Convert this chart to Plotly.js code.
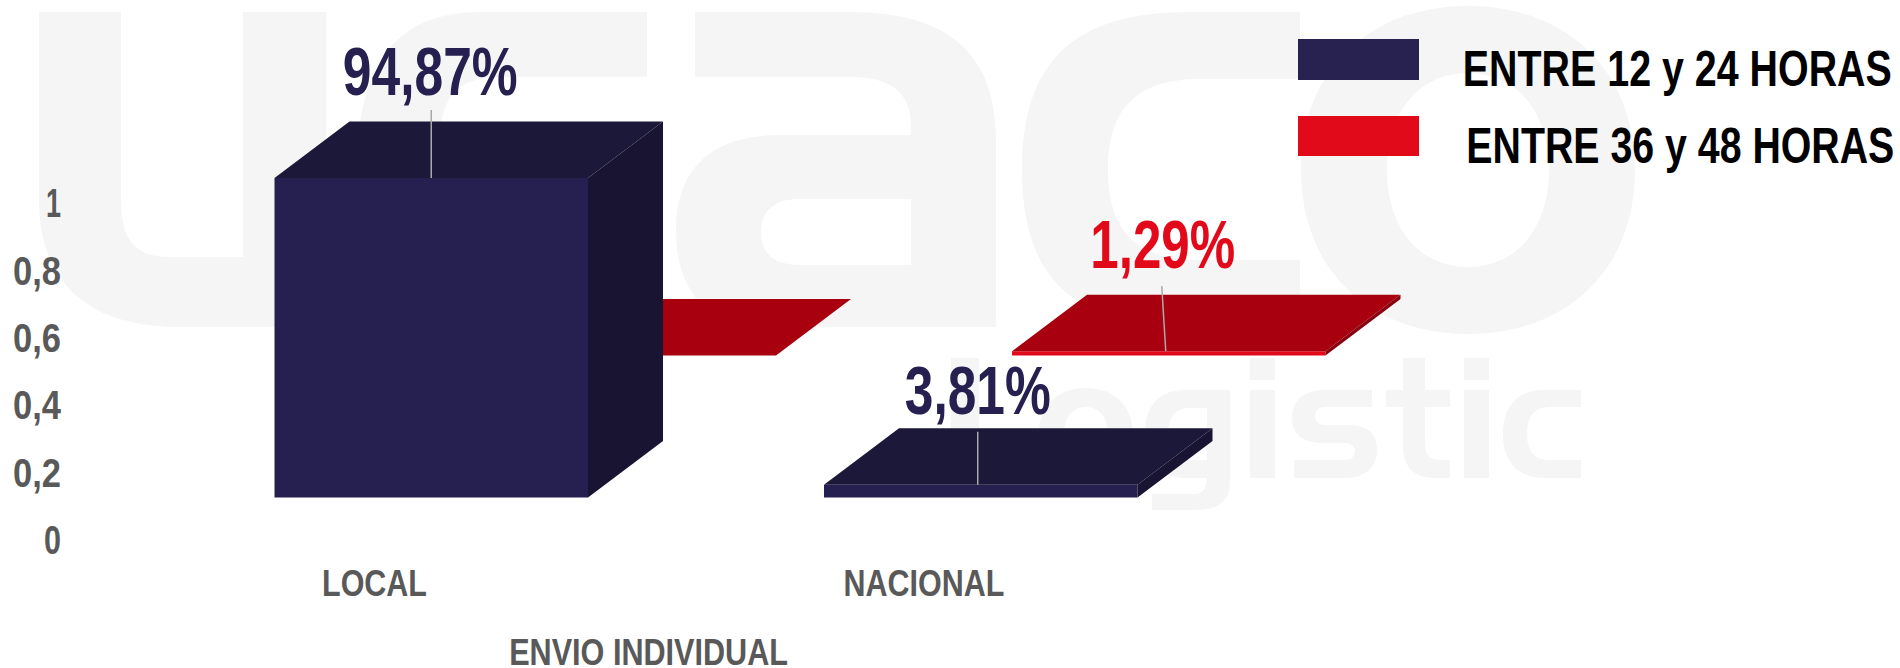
<!DOCTYPE html>
<html>
<head>
<meta charset="utf-8">
<script src="https://cdn.plot.ly/plotly-3.0.1.min.js"></script>
<style>html,body{margin:0;padding:0;background:#fff}#c{width:1900px;height:668px}</style>
</head>
<body>
<div id="c"></div>
<script>
// ---- data ----
const categories = ['LOCAL', 'NACIONAL'];
const axisTitle = 'ENVIO INDIVIDUAL';
const seriesNames = ['ENTRE 12 y 24 HORAS', 'ENTRE 36 y 48 HORAS'];
const valuesShort = [0.9487, 0.0381];   // navy
const valuesLong = [0, 0.0129];         // red
const yTickVals = [0, 0.2, 0.4, 0.6, 0.8, 1];
const yTickText = ['0', '0,2', '0,4', '0,6', '0,8', '1'];

// ---- page geometry ----
const W = 1900, H = 668, ML = 66, MB = 113;
const XS = 549.5, YS = 336.8;          // px per category, px per unit
const X0 = 374.5, Y0 = 540;            // px of x=0, y=0
const plotH = H - MB, plotW = W - ML;
const xRange = [(ML - X0) / XS, (W - X0) / XS];
const yRange = [(Y0 - plotH) / YS, Y0 / YS];
const px = x => (x - ML) / plotW;      // page px -> paper
const py = y => 1 - y / plotH;

// ---- 3D projection of the column chart ----
const barW = 313.5 / XS, depthX = 75 / XS, depthY = 56.5 / YS;
const frontOffset = -100 / XS, floorBase = 42.5 / YS;
const rowX = 188 / XS, rowY = 142 / YS;
const FONT = '"Liberation Sans","Arial",sans-serif';

function geom(row, i, v) {
  const l = i + frontOffset + row * rowX, r = l + barW;
  const b = floorBase + row * rowY, t = b + v;
  return {l, r, b, t};
}
function facePoly(values, row, kind) {
  const xs = [], ys = [];
  values.forEach((v, i) => {
    const g = geom(row, i, v);
    if (kind === 'top') {
      xs.push(g.l, g.r, g.r + depthX, g.l + depthX, g.l, null);
      ys.push(g.t, g.t, g.t + depthY, g.t + depthY, g.t, null);
    } else {
      xs.push(g.r, g.r + depthX, g.r + depthX, g.r, g.r, null);
      ys.push(g.b, g.b + depthY, g.t + depthY, g.t, g.b, null);
    }
  });
  return {x: xs, y: ys};
}
function seriesTraces(values, row, name, cols, xa, ya, style) {
  const base = {xaxis: xa, yaxis: ya, hoverinfo: 'skip', showlegend: false};
  const out = [];
  out.push(Object.assign({}, base, {
    type: 'bar', name, x: categories.map((c, i) => i), y: values,
    base: values.map(() => floorBase + row * rowY),
    offset: frontOffset + row * rowX, width: barW,
    marker: {color: cols.front, line: {width: 0}}
  }));
  ['top', 'side'].forEach(k => {
    const p = facePoly(values, row, k);
    out.push(Object.assign({}, base, {
      type: 'scatter', mode: 'lines', x: p.x, y: p.y, fill: 'toself',
      fillcolor: k === 'top' ? cols.top : cols.side, line: {width: 0, color: cols.top}
    }));
  });
  // leader lines and value labels, only where there is a value label
  const lx = [], ly = [], tx = [], ty = [], tt = [];
  values.forEach((v, i) => {
    if (v <= 0) return;
    const g = geom(row, i, v), c = (g.l + g.r) / 2;
    lx.push(c + style.leadFoot[i] / XS, c + style.leadHead[i] / XS, null);
    ly.push(g.t, g.t + style.leadLen[i] / YS, null);
    tx.push(c + style.labelDx[i] / XS);
    ty.push(g.t + style.lift[i] / YS);
    tt.push((v * 100).toFixed(2).replace('.', ',') + '%');
  });
  out.push(Object.assign({}, base, {
    type: 'scatter', mode: 'lines', x: lx, y: ly, line: {color: '#a8a8a8', width: 1.5}
  }));
  out.push(Object.assign({}, base, {
    type: 'scatter', mode: 'text', x: tx, y: ty, text: tt, textposition: 'middle center',
    textfont: {family: FONT, size: 68, color: cols.label, weight: 'bold'}
  }));
  return out;
}

const traces = [
  ...seriesTraces(valuesLong, 1, seriesNames[1],
    {front: '#e20a1a', top: '#a8000f', side: '#8a0210', label: '#e20a1a'}, 'x', 'y',
    {lift: [0, 100], leadLen: [0, 65], leadFoot: [0, -3], leadHead: [0, -7], labelDx: [0, -6]}),
  ...seriesTraces(valuesShort, 0, seriesNames[0],
    {front: '#262050', top: '#1c1839', side: '#191431', label: '#262050'}, 'x2', 'y2',
    {lift: [100, 88], leadLen: [68, 53], leadFoot: [0, -3], leadHead: [0, -3], labelDx: [-1, -3]})
];

// ---- watermark art behind the chart (page px paths) ----
function toPaper(path) {
  return path.replace(/(-?[\d.]+) (-?[\d.]+)/g, (m, a, b) => px(+a).toFixed(5) + ',' + py(+b).toFixed(5));
}
function ell(cx, cy, rx, ry) {
  const k = 0.6, kx = rx * k, ky = ry * k;
  return `M${cx - rx} ${cy} C${cx - rx} ${cy - ky} ${cx - kx} ${cy - ry} ${cx} ${cy - ry} ` +
    `C${cx + kx} ${cy - ry} ${cx + rx} ${cy - ky} ${cx + rx} ${cy} ` +
    `C${cx + rx} ${cy + ky} ${cx + kx} ${cy + ry} ${cx} ${cy + ry} ` +
    `C${cx - kx} ${cy + ry} ${cx - rx} ${cy + ky} ${cx - rx} ${cy} Z`;
}
function rect(a, b, c, d) { return `M${a} ${b} L${c} ${b} L${c} ${d} L${a} ${d} Z`; }
const logoPaths = [
  'M39 12 L121 12 L121 200 C121 240 135 257 170 257 L243 257 L243 12 L326 12 L326 327 L180 327 C85 327 39 280 39 200 Z',
  'M647 12 L647 77 L500 77 C460 77 444 95 440 130 L440 200 C440 245 460 260 500 260 L647 260 L647 327 L480 327 C400 327 357 280 357 170 C357 60 400 12 480 12 Z',
  'M695 12 L850 12 C950 12 996 55 996 140 L996 327 L770 327 C710 327 676 295 676 230 C676 170 710 135 780 135 L911 135 L911 125 C911 92 890 77 850 77 L695 77 Z M911 199 L800 199 C770 199 761 215 761 232 C761 250 770 265 800 265 L911 265 Z',
  'M1300 12 L1300 79 L1200 79 C1135 79 1108 110 1108 170 C1108 230 1135 260 1200 260 L1300 260 L1300 327 L1190 327 C1075 327 1022 280 1022 170 C1022 60 1075 12 1190 12 Z',
  ell(1468, 170, 167, 164) + ' ' + ell(1468, 170, 81, 97),
  rect(951, 358, 979, 478),
  ell(1086, 434, 47, 46) + ' ' + ell(1086, 434, 22, 27),
  'M1230 390 L1230 482 C1230 500 1220 510 1195 510 L1152 510 L1152 494 L1195 494 C1203 494 1207 488 1207 478 L1185 478 C1160 478 1145 462 1145 434 C1145 405 1160 390 1185 390 Z M1207 408 L1190 408 C1175 408 1168 418 1168 434 C1168 450 1175 460 1190 460 L1207 460 Z',
  rect(1250, 358, 1275, 380), rect(1250, 390, 1275, 478),
  'M1372 390 L1325 390 C1302 390 1292 402 1292 418 C1292 434 1302 443 1325 443 L1345 443 C1352 443 1355 448 1355 450 C1355 456 1352 460 1345 460 L1294 460 L1294 478 L1345 478 C1367 478 1377 465 1377 450 C1377 432 1367 425 1345 425 L1325 425 C1318 425 1315 420 1315 416 C1315 411 1318 407 1325 407 L1372 407 Z',
  'M1403 358 L1425 358 L1425 390 L1450 390 L1450 407 L1425 407 L1425 445 C1425 455 1430 460 1440 460 L1450 460 L1450 478 L1435 478 C1412 478 1403 465 1403 445 L1403 407 L1386 407 L1386 390 L1403 390 Z',
  rect(1464, 358, 1489, 380), rect(1464, 390, 1489, 478),
  'M1581 390 L1581 407 L1550 407 C1533 407 1527 418 1527 434 C1527 450 1533 460 1550 460 L1581 460 L1581 478 L1545 478 C1518 478 1503 462 1503 434 C1503 405 1518 390 1545 390 Z'
];
const shapes = logoPaths.map(p => ({
  type: 'path', xref: 'paper', yref: 'paper', layer: 'below', path: toPaper(p),
  fillcolor: '#f5f5f5', fillrule: 'evenodd', line: {width: 0}
}));
// legend swatches
[[1298, 39, 1419, 80, '#282250'], [1298, 116, 1419, 156, '#e10a1a']].forEach(s => shapes.push({
  type: 'rect', xref: 'paper', yref: 'paper', layer: 'above',
  x0: px(s[0]), x1: px(s[2]), y0: py(s[3]), y1: py(s[1]), fillcolor: s[4], line: {width: 0}
}));

const annText = (text, x, y, size, color) => ({
  text, xref: 'paper', yref: 'paper', x: px(x), y: py(y), xanchor: 'center', yanchor: 'middle',
  showarrow: false, font: {family: FONT, size, color, weight: 'bold'}
});
const annotations = [
  annText(seriesNames[0], 1677, 69, 50, '#000000'),
  annText(seriesNames[1], 1680.5, 146, 50, '#000000'),
  annText(axisTitle, 648.5, 652, 37, '#595959')
];

const hidden = {visible: false, fixedrange: true, showgrid: false, zeroline: false};
const layout = {
  width: W, height: H, paper_bgcolor: '#ffffff', plot_bgcolor: 'rgba(0,0,0,0)',
  margin: {l: ML, r: 0, t: 0, b: MB, pad: 0}, showlegend: false, barmode: 'overlay',
  xaxis: {range: xRange, tickmode: 'array', tickvals: categories.map((c, i) => i), ticktext: categories,
    showgrid: false, zeroline: false, showline: false, ticks: '', ticklabelstandoff: 3,
    tickfont: {family: FONT, size: 37, color: '#595959', weight: 'bold'}, fixedrange: true},
  yaxis: {range: yRange, tickmode: 'array', tickvals: yTickVals, ticktext: yTickText,
    showgrid: false, zeroline: false, showline: false, ticks: '', ticklabelstandoff: 4,
    tickfont: {family: FONT, size: 40, color: '#595959', weight: 'bold'}, fixedrange: true},
  xaxis2: Object.assign({}, hidden, {range: xRange, overlaying: 'x'}),
  yaxis2: Object.assign({}, hidden, {range: yRange, overlaying: 'y'}),
  shapes, annotations
};

// The reference type is a condensed bold face; squeeze the installed bold horizontally
// about each text's anchor to the text widths.
const textWidths = {
  '94,87%': 175, '3,81%': 146, '1,29%': 145,
  'ENTRE 12 y 24 HORAS': 429, 'ENTRE 36 y 48 HORAS': 428,
  'LOCAL': 105, 'NACIONAL': 161, 'ENVIO INDIVIDUAL': 279,
  '0': 17, '0,2': 48, '0,4': 48, '0,6': 48, '0,8': 48, '1': 15
};
Plotly.newPlot('c', traces, layout, {displayModeBar: false, responsive: false}).then(() => {
  document.querySelectorAll('#c svg text').forEach(t => {
    const w = textWidths[t.textContent.trim()];
    if (!w) return;
    const f = w / t.getComputedTextLength();
    const x = parseFloat(t.getAttribute('x')) || 0;
    const prior = t.getAttribute('transform') || '';
    t.setAttribute('transform', `${prior} translate(${x},0) scale(${f},1) translate(${-x},0)`);
  });
});
</script>
</body>
</html>
